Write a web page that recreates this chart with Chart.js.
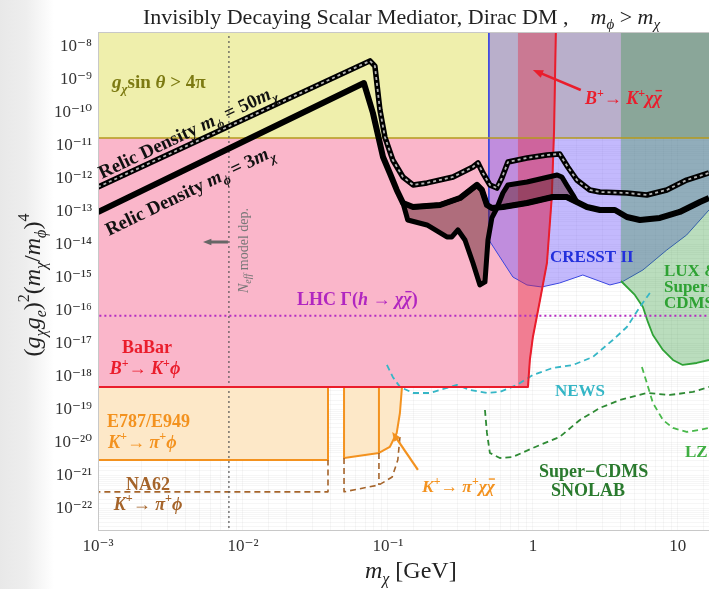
<!DOCTYPE html>
<html>
<head>
<meta charset="utf-8">
<script src="https://cdn.jsdelivr.net/npm/chart.js@4.4.1/dist/chart.umd.min.js"></script>
<style>
  html, body { margin: 0; padding: 0; }
  body { width: 709px; height: 589px; overflow: hidden; background: linear-gradient(to right, #e8e8e8 0px, #eeeeee 26px, #ffffff 54px); }
  canvas { display: block; }
</style>
</head>
<body>
<canvas id="chart" width="709" height="589"></canvas>
<script>
const SERIF = "'Liberation Serif', 'DejaVu Serif', 'Times New Roman', serif"

// axis ranges
const xRange = [1e-3, 16.4]
const yRange = [2.3e-23, 2.85e-8]

// straight limits
const perturbY = 1.75e-11      // g_chi sin(theta) > 4 pi
const babarY = 5e-19           // BaBar B+ -> K+ phi
const lhcY = 7.2e-17           // LHC Gamma(h -> chi chi)
const neffX = 8.0e-3           // N_eff model dependent
const e787Y = 3.05e-21
const na62Y = 3.3e-22
const e787GapX = [0.0386, 0.0498]
const kaonEdgeX = 0.0867
const bToKStripX = 0.789

// BaBar right edge (red curve)
const babarCurveX = [0.925, 0.953, 1.0, 1.12, 1.25, 1.35, 1.40, 1.44]
const babarCurveY = [5e-19, 3.27e-18, 1.63e-17, 2.15e-16, 2.85e-15, 2.85e-13, 3.05e-11, 2.85e-8]

// E787/E949 and NA62 edges above the pi0 gap
const e787CurveX = [0.0498, 0.0867, 0.103, 0.115, 0.121, 0.125]
const e787CurveY = [3.5e-21, 4.98e-21, 7.57e-21, 2.01e-20, 8.1e-20, 5e-19]
const na62CurveX = [0.0498, 0.0867, 0.107, 0.117, 0.121]
const na62CurveY = [3.3e-22, 5.33e-22, 9.3e-22, 3.05e-21, 1.52e-20]

// direct detection
const cresstEdgeX = 0.497
const cresstX = [0.497, 0.592, 0.728, 0.910, 1.15, 1.53, 2.21, 3.40, 4.11, 5.74, 8.39, 11.5, 16.4]
const cresstY = [1.42e-14, 4.33e-15, 1.07e-15, 6.14e-16, 5.33e-16, 7.05e-16, 1.23e-15, 6.14e-16, 7.57e-16, 1.75e-15, 7.05e-15, 2.01e-14, 1.15e-13]
const luxX = [4.05, 5.05, 5.74, 6.21, 6.73, 7.89, 9.25, 10.8, 13.5, 16.4]
const luxY = [8.1e-16, 3.05e-16, 1.32e-16, 4.65e-17, 1.87e-17, 6.58e-18, 3.27e-18, 2.31e-18, 2.65e-18, 3.27e-18]
const newsX = [0.0984, 0.108, 0.121, 0.149, 0.195, 0.255, 0.299, 0.368, 0.482, 0.592, 0.776, 1.0, 1.37, 1.89, 2.59, 3.56, 4.45, 5.47, 6.41]
const newsY = [2.31e-18, 1.0e-18, 5.0e-19, 3.27e-19, 3.27e-19, 4.65e-19, 5.73e-19, 4.04e-19, 3.27e-19, 3.51e-19, 5.73e-19, 1.15e-18, 1.87e-18, 2.31e-18, 4.04e-18, 1.32e-17, 3.27e-17, 1.32e-16, 3.51e-16]
const snolabX = [0.467, 0.482, 0.505, 0.592, 0.728, 1.0, 1.53, 2.11, 2.90, 3.98, 6.11, 8.81, 12.7, 16.4]
const snolabY = [1.0e-19, 2.01e-20, 4.98e-21, 3.5e-21, 3.77e-21, 7.05e-21, 1.52e-20, 4.98e-20, 1.15e-19, 2.01e-19, 3.27e-19, 2.85e-19, 3.51e-19, 5.0e-19]
const lzX = [5.65, 6.11, 6.73, 7.89, 9.25, 11.5, 14.2, 16.4]
const lzY = [2.01e-18, 6.58e-19, 1.63e-19, 4.98e-20, 2.85e-20, 2.15e-20, 2.48e-20, 2.85e-20]

// relic density curves
const relic50X = [0.001, 0.0752, 0.0813, 0.0881, 0.0953, 0.108, 0.127, 0.149, 0.186, 0.281, 0.386, 0.418, 0.452, 0.505, 0.565, 0.611, 0.673, 0.910, 1.25, 1.53, 1.74, 2.01, 2.47, 2.90, 4.45, 6.11, 8.39, 11.5, 16.4]
const relic50Y = [5.7e-13, 3.8e-9, 2.65e-9, 1.23e-10, 1.87e-11, 3.77e-12, 1.15e-12, 6.6e-13, 7.6e-13, 1.15e-12, 2.31e-12, 3.05e-12, 1.52e-12, 6.6e-13, 5.3e-13, 1.07e-12, 3.27e-12, 4.33e-12, 5.33e-12, 5.73e-12, 2.31e-12, 9.3e-13, 4.65e-13, 4.04e-13, 3.77e-13, 3.27e-13, 4.65e-13, 9.3e-13, 1.52e-12]
const relic3X = [0.001, 0.0683, 0.0788, 0.0925, 0.103, 0.115, 0.127, 0.149, 0.229, 0.314, 0.411, 0.445, 0.482, 0.521, 0.621, 0.910, 1.37, 1.71, 2.01, 2.36, 2.90, 3.68, 4.45, 5.47, 7.52, 10.3, 14.2, 16.4]
const relic3Y = [1.0e-13, 8.1e-10, 1.0e-10, 4.65e-12, 1.52e-12, 4.65e-13, 1.87e-13, 1.42e-13, 1.63e-13, 2.65e-13, 6.6e-13, 4.65e-13, 1.63e-13, 1.32e-13, 1.42e-13, 1.87e-13, 2.85e-13, 2.85e-13, 2.01e-13, 1.42e-13, 1.15e-13, 1.15e-13, 7.05e-14, 5.73e-14, 6.58e-14, 1.0e-13, 2.01e-13, 2.65e-13]
const relicLowX = [0.127, 0.137, 0.186, 0.255, 0.276, 0.304, 0.340, 0.386, 0.431, 0.467, 0.490, 0.521, 0.565]
const relicLowY = [1.87e-13, 5.73e-14, 4.04e-14, 1.75e-14, 1.75e-14, 2.85e-14, 1.42e-14, 2.85e-15, 6.14e-16, 7.57e-16, 1.42e-14, 6.58e-14, 1.32e-13]
const relicHighX = [0.565, 0.621, 0.673, 0.910, 1.47, 1.585, 1.71, 1.89, 2.01]
const relicHighY = [1.32e-13, 3.77e-13, 6.6e-13, 8.1e-13, 1.32e-12, 1.15e-12, 6.6e-13, 3.27e-13, 2.01e-13]

// arrows (tail, head)
const bKArrow = [[2.14, 4.98e-10], [1.0, 2.01e-9]]
const kPiArrow = [[0.161, 1.52e-21], [0.107, 2.15e-20]]
const neffArrow = [[7.88e-3, 1.23e-14], [5.3e-3, 1.23e-14]]

// limits beyond the frame so that shaded areas run off the edges
const LO_X = 5e-4, HI_X = 40, HI_Y = 1e-6, LO_Y = 1e-25

const zip = (xs, ys) => xs.map((x, i) => ({ x, y: ys[i] }))
const P = (x, y) => ({ x, y })

const relic3Pts = zip(relic3X, relic3Y)
const babarCurve = zip(babarCurveX, babarCurveY)

function area(data, bg, border, width) {
  return { data, backgroundColor: bg, borderColor: border || 'rgba(0,0,0,0)', borderWidth: width || 0, fill: 'shape' }
}
function curve(data, color, width, dash) {
  return { data, borderColor: color, borderWidth: width, borderDash: dash || [], fill: false }
}

const RED = '#ea1d2c', ORANGE = '#f3921f', BROWN = '#a5642a'

const layers = [
  // BaBar pink
  area([P(LO_X, babarY), ...babarCurve, P(1.45, HI_Y), P(LO_X, HI_Y)], 'rgb(250,182,202)'),
  // g sin theta > 4 pi
  area([P(LO_X, perturbY), P(HI_X, perturbY), P(HI_X, HI_Y), P(LO_X, HI_Y)], 'rgb(239,239,172)'),
  // E787/E949
  area([P(LO_X, babarY), P(e787GapX[0], babarY), P(e787GapX[0], e787Y), P(LO_X, e787Y)], 'rgb(253,232,200)', ORANGE, 2),
  area([P(e787GapX[1], babarY), ...zip(e787CurveX, e787CurveY)], 'rgb(253,232,200)', ORANGE, 2),
  // CRESST II
  area([P(cresstEdgeX, HI_Y), ...zip(cresstX, cresstY), P(HI_X, cresstY[cresstY.length - 1]), P(HI_X, HI_Y)], 'rgba(105,80,250,0.4)', '#3a46e0', 1),
  // B+ -> K+ chi chi strip
  area([P(bToKStripX, babarY), ...babarCurve, P(1.45, HI_Y), P(bToKStripX, HI_Y)], 'rgba(228,40,62,0.4)', 'rgba(205,50,70,0.7)', 1),
  // LUX & SuperCDMS
  area([P(luxX[0], HI_Y), ...zip(luxX, luxY), P(HI_X, luxY[luxY.length - 1]), P(HI_X, HI_Y)], 'rgba(40,150,50,0.32)'),
  curve(zip(luxX, luxY), '#2fa236', 1.8),
  curve([P(LO_X, perturbY), P(HI_X, perturbY)], '#b49a1c', 1.6),
  // kaon lines
  curve([P(kaonEdgeX, babarY), P(kaonEdgeX, e787CurveY[1])], ORANGE, 2),
  curve([P(LO_X, na62Y), P(e787GapX[0], na62Y), P(e787GapX[0], e787Y)], BROWN, 1.6, [6, 4]),
  curve([P(e787GapX[1], e787CurveY[0]), ...zip(na62CurveX, na62CurveY)], BROWN, 1.6, [6, 4]),
  curve([P(kaonEdgeX, e787CurveY[1]), P(kaonEdgeX, na62CurveY[1])], BROWN, 1.6, [6, 4]),
  // projections
  curve(zip(newsX, newsY), '#35b6c6', 1.8, [6, 4]),
  curve(zip(snolabX, snolabY), '#2e8a34', 1.8, [6, 4]),
  curve(zip(lzX, lzY), '#48b84a', 1.8, [6, 4]),
  curve([P(LO_X, lhcY), P(HI_X, lhcY)], '#b52cc2', 2, [2, 3]),
  curve([P(neffX, LO_Y), P(neffX, HI_Y)], '#555', 1.2, [2, 3]),
  // BaBar boundary
  curve([P(LO_X, babarY), ...babarCurve, P(1.45, HI_Y)], RED, 2),
  // relic bands
  area([...zip(relicLowX, relicLowY), ...relic3Pts.filter(p => p.x > 0.127 && p.x < 0.565).reverse()], 'rgba(100,35,45,0.5)', '#000', 5),
  area([...zip(relicHighX, relicHighY), ...relic3Pts.filter(p => p.x > 0.565 && p.x < 2.01).reverse()], 'rgba(100,35,45,0.5)', '#000', 5),
  curve(relic3Pts, '#000', 6),
  curve(zip(relic50X, relic50Y), '#000', 5.5),
  curve(zip(relic50X, relic50Y), 'rgba(190,190,190,0.95)', 1.8, [3, 3])
]

const datasets = layers.map((d, i) => Object.assign({
  order: layers.length - i,
  pointRadius: 0,
  pointHoverRadius: 0,
  tension: 0,
  borderJoinStyle: 'round',
  borderCapStyle: 'butt'
}, d))

const SUP = { '-': '\u207B', '0': '\u2070', '1': '\u00B9', '2': '\u00B2', '3': '\u00B3', '4': '\u2074', '5': '\u2075', '6': '\u2076', '7': '\u2077', '8': '\u2078', '9': '\u2079' }
function powLabel(v) {
  const e = Math.log10(v)
  const r = Math.round(e)
  if (Math.abs(e - r) > 1e-6) return ''
  if (r === 0) return '1'
  if (r === 1) return '10'
  return '10' + String(r).split('').map(c => SUP[c]).join('')
}

const F = (size, style) => `${style || ''} ${size}px ${SERIF}`

function drawRich(ctx, parts, x, y, color, align) {
  let w = 0
  for (const p of parts) { ctx.font = p.f; w += ctx.measureText(p.t).width }
  let cx = align === 'center' ? x - w / 2 : x
  ctx.textAlign = 'left'
  ctx.textBaseline = 'alphabetic'
  for (const p of parts) {
    ctx.font = p.f
    ctx.fillStyle = p.c || color
    const tw = ctx.measureText(p.t).width
    const dy = p.dy || 0
    ctx.fillText(p.t, cx, y + dy)
    if (p.bar) ctx.fillRect(cx + 2, y + dy - p.bar, tw - 2, 1.4)
    cx += tw
  }
}

function arrow(ctx, a, b, color, width, head) {
  const ang = Math.atan2(b[1] - a[1], b[0] - a[0])
  ctx.strokeStyle = color
  ctx.fillStyle = color
  ctx.lineWidth = width
  ctx.beginPath()
  ctx.moveTo(a[0], a[1])
  ctx.lineTo(b[0] - Math.cos(ang) * head * 0.7, b[1] - Math.sin(ang) * head * 0.7)
  ctx.stroke()
  ctx.beginPath()
  ctx.moveTo(b[0], b[1])
  ctx.lineTo(b[0] - head * Math.cos(ang - 0.38), b[1] - head * Math.sin(ang - 0.38))
  ctx.lineTo(b[0] - head * Math.cos(ang + 0.38), b[1] - head * Math.sin(ang + 0.38))
  ctx.closePath()
  ctx.fill()
}

// labels: [parts, x, y, color, align, rotation]
const chiBar = (size, style) => ({ t: '\u03C7', f: F(size, style), bar: size * 0.78 })
const sup = (t, size) => ({ t, f: F(size, 'bold'), dy: -size * 0.62 })
const kaonPhi = (size, last) => [{ t: 'K', f: F(size, 'italic bold') }, sup('+', size * 0.68), { t: '\u2192 ', f: F(size, 'bold') },
  { t: '\u03C0', f: F(size, 'italic bold') }, sup('+', size * 0.68), ...last]
const labels = [
  [[{ t: 'Invisibly Decaying Scalar Mediator, Dirac DM ,    ', f: F(22) }, { t: 'm', f: F(22, 'italic') }, { t: '\u03D5', f: F(15, 'italic'), dy: 5 },
    { t: ' > ', f: F(22) }, { t: 'm', f: F(22, 'italic') }, { t: '\u03C7', f: F(15, 'italic'), dy: 5 }], 143, 24, '#222', 'left', 0],
  [[{ t: 'm', f: F(24, 'italic') }, { t: '\u03C7', f: F(16, 'italic'), dy: 6 }, { t: ' [GeV]', f: F(24) }], 365, 578, '#222', 'left', 0],
  [[{ t: '(', f: F(24) }, { t: 'g', f: F(24, 'italic') }, { t: '\u03C7', f: F(16, 'italic'), dy: 6 }, { t: 'g', f: F(24, 'italic') }, { t: 'e', f: F(16, 'italic'), dy: 6 },
    { t: ')', f: F(24) }, { t: '2', f: F(16), dy: -11 }, { t: '(', f: F(24) }, { t: 'm', f: F(24, 'italic') }, { t: '\u03C7', f: F(16, 'italic'), dy: 6 },
    { t: '/', f: F(24) }, { t: 'm', f: F(24, 'italic') }, { t: '\u03D5', f: F(16, 'italic'), dy: 6 }, { t: ')', f: F(24) }, { t: '4', f: F(16), dy: -11 }], 40, 285, '#222', 'center', -90],
  [[{ t: 'g', f: F(19, 'italic bold') }, { t: '\u03C7', f: F(13, 'italic bold'), dy: 5 }, { t: 'sin ', f: F(19, 'bold') }, { t: '\u03B8', f: F(19, 'italic bold') }, { t: ' > 4\u03C0', f: F(19, 'bold') }], 112, 88, '#7c7a12', 'left', 0],
  [[{ t: 'Relic Density ', f: F(19, 'bold') }, { t: 'm', f: F(19, 'italic bold') }, { t: '\u03D5', f: F(13, 'italic bold'), dy: 5 }, { t: ' = 50', f: F(19, 'bold') }, { t: 'm', f: F(19, 'italic bold') }, { t: '\u03C7', f: F(13, 'italic bold'), dy: 5 }], 102, 179, '#111', 'left', -25.3],
  [[{ t: 'Relic Density ', f: F(19, 'bold') }, { t: 'm', f: F(19, 'italic bold') }, { t: '\u03D5', f: F(13, 'italic bold'), dy: 5 }, { t: ' = 3', f: F(19, 'bold') }, { t: 'm', f: F(19, 'italic bold') }, { t: '\u03C7', f: F(13, 'italic bold'), dy: 5 }], 109, 236, '#111', 'left', -25.8],
  [[{ t: 'N', f: F(14, 'italic') }, { t: 'eff', f: F(10, 'italic'), dy: 3 }, { t: ' model dep.', f: F(14) }], 248, 293, '#777', 'left', -90],
  [[{ t: 'LHC \u0393(', f: F(18, 'bold') }, { t: 'h', f: F(18, 'italic bold') }, { t: ' \u2192 ', f: F(18, 'bold') }, { t: '\u03C7', f: F(18, 'italic bold') }, chiBar(18, 'italic bold'), { t: ')', f: F(18, 'bold') }], 297, 305, '#b126c0', 'left', 0],
  [[{ t: 'BaBar', f: F(18, 'bold') }], 147, 353, RED, 'center', 0],
  [[{ t: 'B', f: F(18, 'italic bold') }, sup('+', 12), { t: '\u2192 ', f: F(18, 'bold') }, { t: 'K', f: F(18, 'italic bold') }, sup('+', 12), { t: '\u03D5', f: F(18, 'italic bold') }], 145, 374, RED, 'center', 0],
  [[{ t: 'E787/E949', f: F(18, 'bold') }], 107, 427, ORANGE, 'left', 0],
  [kaonPhi(18, [{ t: '\u03D5', f: F(18, 'italic bold') }]), 108, 448, ORANGE, 'left', 0],
  [[{ t: 'NA62', f: F(18, 'bold') }], 148, 490, BROWN, 'center', 0],
  [kaonPhi(18, [{ t: '\u03D5', f: F(18, 'italic bold') }]), 148, 510, BROWN, 'center', 0],
  [kaonPhi(17.5, [{ t: '\u03C7', f: F(17.5, 'italic bold') }, chiBar(17.5, 'italic bold')]), 422, 492, ORANGE, 'left', 0],
  [[{ t: 'B', f: F(18, 'italic bold') }, sup('+', 12), { t: '\u2192 ', f: F(18, 'bold') }, { t: 'K', f: F(18, 'italic bold') }, sup('+', 12), { t: '\u03C7', f: F(18, 'italic bold') }, chiBar(18, 'italic bold')], 585, 104, RED, 'left', 0],
  [[{ t: 'CRESST II', f: F(17, 'bold') }], 550, 262, '#2330dc', 'left', 0],
  [[{ t: 'NEWS', f: F(17, 'bold') }], 555, 396, '#35b6c6', 'left', 0],
  [[{ t: 'Super\u2212CDMS', f: F(18, 'bold') }], 539, 477, '#2a7a2e', 'left', 0],
  [[{ t: 'SNOLAB', f: F(18, 'bold') }], 551, 496, '#2a7a2e', 'left', 0],
  [[{ t: 'LZ', f: F(17, 'bold') }], 685, 457, '#3fae42', 'left', 0],
  [[{ t: 'LUX &', f: F(17, 'bold') }], 664, 276, '#2ea233', 'left', 0],
  [[{ t: 'Super\u2212', f: F(17, 'bold') }], 664, 292, '#2ea233', 'left', 0],
  [[{ t: 'CDMS', f: F(17, 'bold') }], 664, 308, '#2ea233', 'left', 0]
]

const annotations = {
  id: 'annotations',
  afterDraw(chart) {
    const { ctx, chartArea, scales } = chart
    const px = p => [scales.x.getPixelForValue(p[0]), scales.y.getPixelForValue(p[1])]
    ctx.save()
    ctx.strokeStyle = '#c8c8c8'
    ctx.lineWidth = 1
    ctx.strokeRect(chartArea.left + 0.5, chartArea.top + 0.5, chartArea.right - chartArea.left, chartArea.bottom - chartArea.top)
    arrow(ctx, px(bKArrow[0]), px(bKArrow[1]), RED, 2.5, 11)
    arrow(ctx, px(kPiArrow[0]), px(kPiArrow[1]), ORANGE, 2.2, 10)
    arrow(ctx, px(neffArrow[0]), px(neffArrow[1]), '#666', 3, 9)
    for (const [parts, x, y, color, align, rot] of labels) {
      ctx.save()
      ctx.translate(x, y)
      if (rot) ctx.rotate(rot * Math.PI / 180)
      drawRich(ctx, parts, 0, 0, color, align)
      ctx.restore()
    }
    ctx.restore()
  }
}

const grid = { color: 'rgba(0,0,0,0.035)', drawTicks: false }

new Chart(document.getElementById('chart').getContext('2d'), {
  type: 'line',
  data: { datasets },
  options: {
    responsive: false,
    animation: false,
    devicePixelRatio: 1,
    layout: { padding: { top: 32, left: 0, right: 0, bottom: 0 } },
    plugins: { legend: { display: false }, tooltip: { enabled: false } },
    scales: {
      x: {
        type: 'logarithmic',
        min: xRange[0],
        max: xRange[1],
        afterFit(s) { s.height = 59; s.paddingLeft = 0; s.paddingRight = 0 },
        grid,
        border: { color: '#c8c8c8' },
        ticks: { autoSkip: false, maxRotation: 0, padding: 6, color: '#333', font: { family: SERIF, size: 17 }, callback: v => powLabel(v) }
      },
      y: {
        type: 'logarithmic',
        min: yRange[0],
        max: yRange[1],
        afterFit(s) { s.width = 98; s.paddingTop = 0; s.paddingBottom = 0 },
        grid,
        border: { color: '#c8c8c8' },
        ticks: { autoSkip: false, padding: 6, color: '#333', font: { family: SERIF, size: 17 }, callback: v => powLabel(v) }
      }
    }
  },
  plugins: [annotations]
})
</script>
</body>
</html>
